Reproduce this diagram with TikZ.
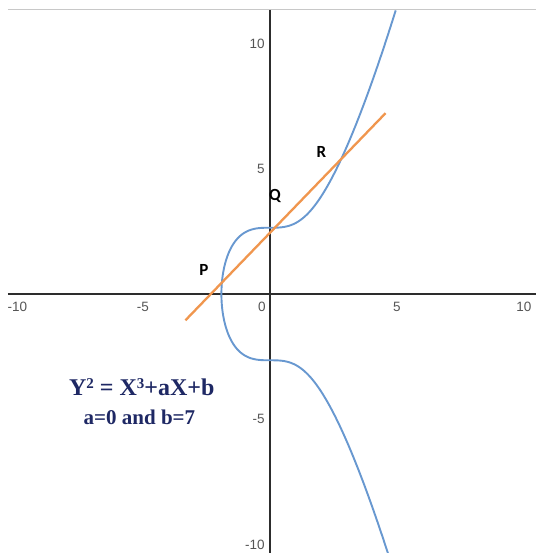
\documentclass[tikz,border=0pt]{standalone}
\usepackage{fontspec}
\setmainfont{Liberation Serif}
\newfontfamily\axisfont{Liberation Sans}
\newfontfamily\ptfont{Carlito}
\definecolor{curveblue}{RGB}{104,152,208}
\definecolor{lineorange}{RGB}{240,150,78}
\definecolor{axisgray}{RGB}{45,45,45}
\definecolor{ticklabel}{RGB}{85,85,85}
\definecolor{navy}{RGB}{30,40,100}
\definecolor{frame}{RGB}{200,200,200}
\newcommand{\supdigit}[1]{\raisebox{0.32em}{\fontsize{15}{15}\selectfont #1}}
\tikzset{
  curve/.style={draw=curveblue,line width=1.9pt,line join=round},
  chord/.style={draw=lineorange,line width=2.3pt},
  axis/.style={draw=axisgray,line width=1.4pt},
  tick/.style={text=ticklabel,font=\axisfont\fontsize{13.5}{14}\selectfont,inner sep=0pt},
  ptlabel/.style={text=black,font=\ptfont\bfseries\fontsize{17}{18}\selectfont,inner sep=0pt},
  eq/.style={text=navy,inner sep=0pt}
}
\begin{document}
\begin{tikzpicture}[x=25.4pt,y=25.05pt]
\useasboundingbox (-10.630,-10.339) rectangle (10.472,11.737);
\fill[white] (-10.630,-10.339) rectangle (10.472,11.737);
% top frame line
\coordinate (tl) at (-10.315,11.34);
\coordinate (tr) at (10.472,11.34);
\draw[frame,line width=1pt] (tl) -- (tr);
% axes
\coordinate (xl) at (-10.315,0);
\coordinate (xr) at (10.472,0);
\coordinate (yt) at (0,11.34);
\coordinate (yb) at (0,-10.339);
\draw[axis] (xl) -- (xr);
\draw[axis] (yt) -- (yb);
% tick labels
\node[tick] (xm10) at (-9.95,-0.5) {-10};
\node[tick] (xm5) at (-5.0,-0.5) {-5};
\node[tick] (x0) at (-0.315,-0.5) {0};
\node[tick] (x5) at (5.0,-0.5) {5};
\node[tick] (x10) at (10.0,-0.5) {10};
\node[tick,anchor=east] (y10) at (-0.2,10) {10};
\node[tick,anchor=east] (y5) at (-0.2,4.98) {5};
\node[tick,anchor=east] (ym5) at (-0.2,-5) {-5};
\node[tick,anchor=east] (ym10) at (-0.2,-10) {-10};
% elliptic curve y^2 = x^3 + 7
\begin{scope}
\clip (-10.315,-10.339) rectangle (10.472,11.34);
\draw[curve] plot[domain=-2.58:2.625,samples=400,smooth,variable=\s]
  ({-1.912931+\s*\s},{sign(\s)*sqrt(abs(pow(-1.912931+\s*\s,3)+7))});
\end{scope}
% chord through P, Q, R
\coordinate (c1) at (-3.33,-1.05);
\coordinate (c2) at (4.55,7.22);
\draw[chord] (c1) -- (c2);
% point labels
\node[ptlabel] (P) at (-2.60,0.97) {P};
\node[ptlabel] (Q) at (0.20,3.92) {Q};
\node[ptlabel] (R) at (2.02,5.65) {R};
% equation
\node[eq,font=\bfseries\fontsize{24}{26}\selectfont] (eq1) at (-5.05,-3.72) {Y\supdigit{2} = X\supdigit{3}+aX+b};
\node[eq,font=\bfseries\fontsize{21}{23}\selectfont] (eq2) at (-5.14,-4.91) {a=0 and b=7};
\end{tikzpicture}
\end{document}
